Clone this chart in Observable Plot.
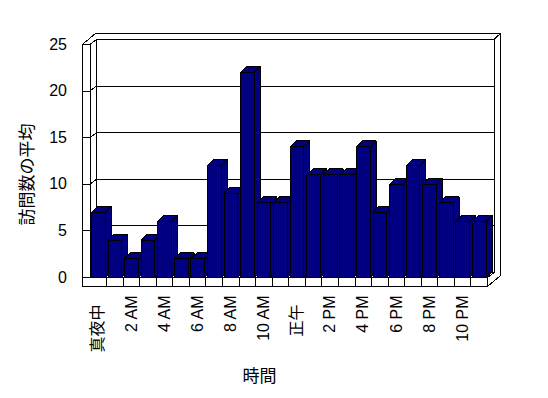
<!DOCTYPE html>
<html>
<head>
<meta charset="utf-8">
<script src="https://cdn.jsdelivr.net/npm/d3@7"></script>
<script src="https://cdn.jsdelivr.net/npm/@observablehq/plot@0.6"></script>
<style>
  html, body { margin: 0; padding: 0; background: #fff; }
  #chart svg { display: block; }
  #chart svg path { shape-rendering: crispEdges; }
</style>
</head>
<body>
<div id="chart"></div>
<script>
// ---- data ----
const hours = ["真夜中","1 AM","2 AM","3 AM","4 AM","5 AM","6 AM","7 AM","8 AM","9 AM","10 AM","11 AM",
               "正午","1 PM","2 PM","3 PM","4 PM","5 PM","6 PM","7 PM","8 PM","9 PM","10 PM","11 PM"];
const visits = [7,4,2,4,6,2,2,12,9,22,8,8,14,11,11,11,14,7,10,12,10,8,6,6];
const yTicks = [0,5,10,15,20,25];
const xTitle = "時間";
const yTitle = "訪問数の平均";

// ---- layout (pixels) ----
const W = 548, H = 398;
const xRange = [89.5, 487], yRange = [277, 43.9];
const N = hours.length, YMAX = 25;
const KX = (xRange[1] - xRange[0]) / N;
const KY = (yRange[0] - yRange[1]) / YMAX;
const ux = p => p / KX, uy = p => p / KY;   // pixel offsets -> data units

const XL = -ux(7.5), YB = -uy(9);
const bx = ux(6.5), by = uy(5);         // inner depth
const obx = ux(13), oby = uy(11);        // outer depth
const bdx = ux(6), bdy = uy(6);          // bar depth

const poly = (id, pts) => pts.map(([x, y]) => ({id, x, y}));

// walls / floor (filled white)
const shell = [
  ...poly("outer", [[XL, YMAX], [XL + obx, YMAX + oby], [N + obx, YMAX + oby], [N + obx, YB + oby], [N, YB], [XL, YB]]),
  ...poly("back", [[bx, by], [N + bx, by], [N + bx, YMAX + by], [bx, YMAX + by]]),
  ...poly("leftwall", [[0, 0], [0, YMAX], [bx, YMAX + by], [bx, by]]),
  ...poly("floor", [[0, 0], [N, 0], [N + bx, by], [bx, by]])
];
// open line segments
const segs = [
  ...poly("lwtop", [[XL, YMAX], [0, YMAX]]),
  ...poly("rcorner", [[N + bx, YMAX + by], [N + obx, YMAX + oby]]),
  ...poly("fright", [[N, 0], [N, YB]]),
  ...yTicks.flatMap(v => poly("g" + v, [[XL, v], [0, v], [bx, v + by], [N + bx, v + by]])),
  ...d3.range(1, N).flatMap(i => poly("d" + i, [[i, 0], [i, YB]]))
];
// bars: side, top, front per bar (in order)
const faces = visits.flatMap((v, i) => {
  const xa = i + ux(1.5), xb = i + ux(15.2);
  return [
    ...poly("s" + i, [[xb, 0], [xb, v], [xb + bdx, v + bdy], [xb + bdx, bdy]]),
    ...poly("t" + i, [[xa, v], [xb, v], [xb + bdx, v + bdy], [xa + bdx, v + bdy]]),
    ...poly("f" + i, [[xa, 0], [xb, 0], [xb, v], [xa, v]])
  ];
});

const labels = hours.map((label, i) => ({label, i})).filter(d => d.i % 2 === 0);
const isLatin = d => /^[\x00-\x7F]*$/.test(d.label);
const LATIN = "Liberation Sans, Arial, sans-serif";
const CJK = "Noto Sans CJK JP, sans-serif";

const chart = Plot.plot({
  width: W, height: H,
  margin: 0,
  x: {type: "linear", domain: [0, N], range: xRange, axis: null},
  y: {type: "linear", domain: [0, YMAX], range: yRange, axis: null},
  style: {background: "#fff", color: "#000"},
  marks: [
    Plot.line(shell, {x: "x", y: "y", z: "id", fill: "#fff", stroke: "#000", strokeWidth: 1, curve: "linear-closed"}),
    Plot.line(segs, {x: "x", y: "y", z: "id", stroke: "#000", strokeWidth: 1}),
    Plot.line(faces, {x: "x", y: "y", z: "id", fill: "#000080", stroke: "#000", strokeWidth: 1, curve: "linear-closed"}),
    Plot.text(yTicks, {x: 0, y: d => d, text: d => String(d), textAnchor: "end", dx: -23, fontSize: 16, fontFamily: LATIN, fill: "#000"}),
    Plot.text(labels.filter(isLatin), {x: d => d.i + 0.5, y: 0, text: "label", rotate: -90, textAnchor: "end", dy: 18, fontSize: 16, fontFamily: LATIN, fill: "#000"}),
    Plot.text(labels.filter(d => !isLatin(d)), {x: d => d.i + 0.5, y: 0, text: "label", rotate: -90, textAnchor: "end", dy: 27, fontSize: 16, fontFamily: CJK, fill: "#000"}),
    Plot.text([xTitle], {frameAnchor: "bottom", textAnchor: "middle", lineAnchor: "middle", dx: -15, dy: -22, fontSize: 17, fontFamily: CJK, fill: "#000"}),
    Plot.text([yTitle], {frameAnchor: "left", textAnchor: "middle", lineAnchor: "middle", dx: 27, dy: -25, rotate: -90, fontSize: 17, fontFamily: CJK, fill: "#000"})
  ]
});
document.getElementById("chart").appendChild(chart);
</script>
</body>
</html>
